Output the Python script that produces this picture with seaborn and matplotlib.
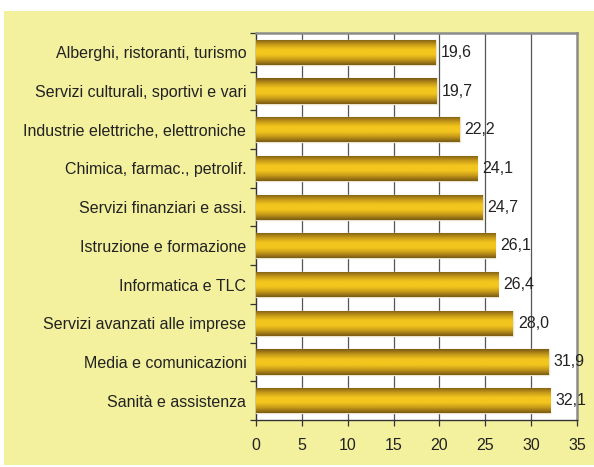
import numpy as np
import pandas as pd
import matplotlib
matplotlib.use('Agg')
import matplotlib.pyplot as plt
from matplotlib.colors import LinearSegmentedColormap
from matplotlib.patches import Rectangle
import seaborn as sns

# Data (top to bottom)
settori = ['Alberghi, ristoranti, turismo',
           'Servizi culturali, sportivi e vari',
           'Industrie elettriche, elettroniche',
           'Chimica, farmac., petrolif.',
           'Servizi finanziari e assi.',
           'Istruzione e formazione',
           'Informatica e TLC',
           'Servizi avanzati alle imprese',
           'Media e comunicazioni',
           'Sanità e assistenza']
valori = [19.6, 19.7, 22.2, 24.1, 24.7, 26.1, 26.4, 28.0, 31.9, 32.1]
x_ticks = [0, 5, 10, 15, 20, 25, 30, 35]

df = pd.DataFrame({'settore': settori, 'valore': valori})

sns.set_style('white')
plt.rcParams['font.family'] = ['Liberation Sans', 'DejaVu Sans']
FS = 11.5

fig = plt.figure(figsize=(5.94, 4.67), dpi=100)
fig.patch.set_facecolor('white')
# yellow panel behind the chart
fig.patches.append(Rectangle((4 / 594, 0.004), 1, 1 - 11 / 467 - 0.004,
                             transform=fig.transFigure, facecolor='#F3F09E',
                             edgecolor='none', zorder=-10))

ax = fig.add_axes([256 / 594, 1 - 420 / 467, (577 - 256) / 594, (420 - 33) / 467])
ax.set_facecolor('white')

sns.barplot(data=df, x='valore', y='settore', orient='h', width=0.65,
            color='#D4A820', edgecolor='#E9E4CC', linewidth=1.0, ax=ax, zorder=3)

# gold gradient on each bar (dark edges, bright middle)
gold = LinearSegmentedColormap.from_list('gold', ['#7A5A14', '#C49818', '#F3C61E',
                                                  '#F3C61E', '#C49818', '#7A5A14'])
grad = np.linspace(0, 1, 64).reshape(-1, 1)
for p in ax.patches:
    x0, y0 = p.get_x(), p.get_y()
    w, h = p.get_width(), p.get_height()
    im = ax.imshow(grad, cmap=gold, aspect='auto', extent=(x0, x0 + w, y0 + h, y0),
                   zorder=3.5, interpolation='bicubic')
    im.set_clip_path(p)

for p, v in zip(ax.patches, valori):
    ax.text(p.get_width() + 0.55, p.get_y() + p.get_height() / 2,
            f'{v:.1f}'.replace('.', ','), va='center', ha='left',
            fontsize=FS, color='#222222', zorder=5)

ax.set_xlim(0, 35)
ax.set_ylim(9.5, -0.5)
ax.set_xticks(x_ticks)
ax.set_xticklabels([str(t) for t in x_ticks], fontsize=FS, color='#222222')
ax.set_yticks(range(len(settori)))
ax.set_yticklabels(settori, fontsize=FS, color='#222222')
ax.set_xlabel('')
ax.set_ylabel('')

# vertical gridlines
for t in x_ticks[1:-1]:
    ax.axvline(t, color='#555555', lw=0.9, zorder=1)

# category boundary ticks on the y axis
ax.set_yticks(np.arange(-0.5, 10, 1), minor=True)
ax.tick_params(axis='y', which='major', length=0, pad=7)
ax.tick_params(axis='y', which='minor', length=4, width=0.9, color='#333333', left=True)
ax.tick_params(axis='x', length=4, width=0.9, color='#333333', bottom=True, pad=9)

for side in ['left', 'bottom']:
    ax.spines[side].set_color('#333333')
    ax.spines[side].set_linewidth(1.0)
for side in ['top', 'right']:
    ax.spines[side].set_color('#8C8C8C')
    ax.spines[side].set_linewidth(1.8)

plt.savefig('out.png', dpi=100)
